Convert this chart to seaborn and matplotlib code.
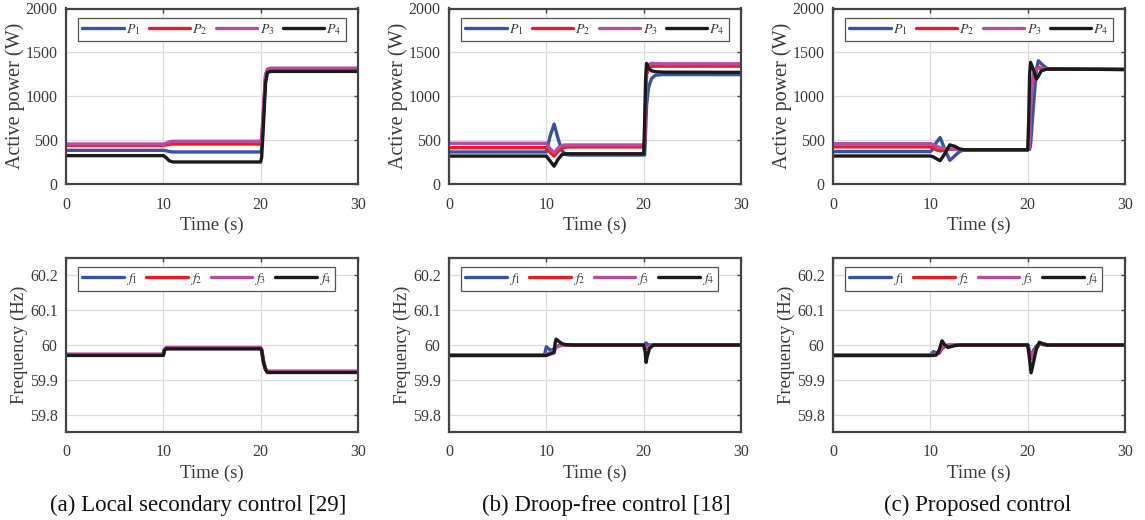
import numpy as np
import pandas as pd
import seaborn as sns
import matplotlib
matplotlib.use("Agg")
import matplotlib.pyplot as plt

# ---------------- data ----------------
# Panel (a) Local secondary control - active power
t_pa = [0, 10, 10.3, 10.6, 11, 20, 20.1, 20.3, 20.5, 20.7, 21, 30]
pa_1 = [384, 384, 378, 370, 365, 365, 400, 800, 1200, 1290, 1305, 1305]
pa_2 = [441, 441, 445, 452, 456, 456, 500, 850, 1230, 1300, 1310, 1310]
pa_3 = [456, 456, 465, 480, 487, 487, 520, 880, 1250, 1310, 1320, 1320]
pa_4 = [323, 323, 300, 265, 251, 251, 300, 700, 1150, 1270, 1283, 1283]

# Panel (b) Droop-free control - active power
t_pb = [0, 10, 10.4, 10.8, 11.2, 11.6, 12, 12.5, 20, 20.1, 20.2, 20.3, 20.5, 20.8, 21.2, 22, 30]
pb_1 = [365, 365, 550, 683, 520, 380, 335, 330, 330, 330, 600, 900, 1100, 1200, 1240, 1247, 1247]
pb_2 = [414, 414, 360, 318, 370, 410, 420, 422, 422, 450, 900, 1250, 1320, 1340, 1343, 1343, 1343]
pb_3 = [464, 464, 400, 357, 410, 440, 445, 445, 445, 480, 950, 1300, 1360, 1375, 1372, 1370, 1370]
pb_4 = [318, 318, 260, 203, 280, 335, 345, 345, 345, 700, 1200, 1374, 1320, 1290, 1280, 1275, 1272]

# Panel (c) Proposed control - active power
t_pc = [0, 10, 10.3, 10.6, 11.0, 11.4, 12.0, 12.5, 13.0, 13.5, 20, 20.1, 20.2, 20.3, 20.6, 20.9, 21.1, 21.4, 22, 30]
pc_1 = [369, 369, 400, 470, 530, 420, 269, 320, 370, 390, 390, 390, 395, 450, 900, 1300, 1405, 1370, 1315, 1305]
pc_2 = [423, 423, 410, 390, 377, 385, 395, 395, 393, 390, 390, 400, 500, 900, 1250, 1320, 1330, 1320, 1310, 1305]
pc_3 = [460, 460, 450, 430, 415, 405, 398, 395, 392, 390, 390, 400, 500, 880, 1240, 1310, 1320, 1315, 1310, 1305]
pc_4 = [319, 319, 310, 290, 265, 330, 446, 430, 400, 390, 390, 700, 1250, 1386, 1300, 1196, 1230, 1290, 1310, 1305]

# Panel (a) - frequency
t_fa = [0, 10, 10.1, 10.3, 20, 20.1, 20.3, 20.5, 20.7, 30]
fa_1 = [59.971, 59.971, 59.985, 59.990, 59.990, 59.985, 59.950, 59.930, 59.922, 59.922]
fa_2 = [59.971, 59.971, 59.985, 59.990, 59.990, 59.985, 59.950, 59.930, 59.922, 59.922]
fa_3 = [59.974, 59.974, 59.988, 59.993, 59.993, 59.988, 59.953, 59.933, 59.925, 59.925]
fa_4 = [59.970, 59.970, 59.984, 59.989, 59.989, 59.984, 59.949, 59.929, 59.921, 59.921]

# Panel (b) - frequency
t_fb = [0, 9.8, 10.0, 10.2, 10.5, 10.8, 10.9, 11.0, 11.3, 11.6, 12, 13, 20, 20.15, 20.25, 20.35, 20.6, 21, 30]
fb_1 = [59.970, 59.970, 59.995, 59.990, 59.984, 59.990, 59.992, 59.995, 59.998, 60.0, 60.0, 60.0, 60.0, 60.004, 60.006, 60.002, 60.0, 60.0, 60.0]
fb_2 = [59.970, 59.970, 59.972, 59.975, 59.978, 59.982, 59.990, 59.995, 59.998, 60.0, 60.0, 60.0, 60.0, 59.995, 59.990, 59.990, 59.996, 60.0, 60.0]
fb_3 = [59.971, 59.971, 59.973, 59.976, 59.979, 59.983, 59.988, 59.993, 59.997, 59.999, 60.0, 60.001, 60.001, 59.996, 59.992, 59.992, 59.997, 60.001, 60.001]
fb_4 = [59.970, 59.970, 59.970, 59.972, 59.975, 59.978, 60.005, 60.017, 60.010, 60.004, 60.001, 60.0, 60.0, 59.980, 59.950, 59.965, 59.990, 60.0, 60.0]

# Panel (c) - frequency
t_fc = [0, 10, 10.3, 10.6, 10.9, 11.2, 11.5, 11.8, 12.5, 13, 20, 20.15, 20.35, 20.6, 20.9, 21.2, 21.6, 22, 30]
fc_1 = [59.970, 59.970, 59.981, 59.978, 59.976, 59.990, 59.997, 60.0, 60.0, 60.0, 60.0, 59.985, 59.970, 59.985, 59.997, 60.003, 60.001, 60.0, 60.0]
fc_2 = [59.970, 59.970, 59.971, 59.974, 59.980, 59.990, 59.996, 59.997, 59.999, 60.0, 60.0, 59.985, 59.960, 59.975, 59.990, 60.002, 60.003, 60.0, 60.0]
fc_3 = [59.971, 59.971, 59.972, 59.975, 59.982, 59.992, 59.998, 59.998, 60.0, 60.001, 60.001, 59.986, 59.962, 59.977, 59.992, 60.003, 60.004, 60.001, 60.001]
fc_4 = [59.970, 59.970, 59.970, 59.971, 59.985, 60.012, 60.0, 59.993, 59.998, 60.0, 60.0, 59.970, 59.920, 59.950, 59.990, 60.008, 60.003, 60.0, 60.0]

p_labels = [r"$P_\mathit{1}$", r"$P_\mathit{2}$", r"$P_\mathit{3}$", r"$P_\mathit{4}$"]
f_labels = [r"$f_\mathit{1}$", r"$f_\mathit{2}$", r"$f_\mathit{3}$", r"$f_\mathit{4}$"]
captions = ["(a) Local secondary control [29]", "(b) Droop-free control [18]", "(c) Proposed control"]
x_ticks = [0, 10, 20, 30]
p_ticks = [0, 500, 1000, 1500, 2000]
f_ticks = [59.8, 59.9, 60.0, 60.1, 60.2]
f_ticklabels = ["59.8", "59.9", "60", "60.1", "60.2"]

# ---------------- style ----------------
sns.set_theme(style="white")
plt.rcParams["font.family"] = ["Liberation Serif", "DejaVu Serif"]
plt.rcParams["mathtext.fontset"] = "stix"

colors = ["#3953a4", "#ed1c24", "#b84ea1", "#1a1a1a"]
text_c = "#3a3a3a"
spine_c = "#444444"

fig = plt.figure(figsize=(11.45, 5.2), dpi=100)
lefts = [66 / 1145, 449 / 1145, 833 / 1145]
width = 292 / 1145
top_row = (1 - 184 / 520, (184 - 8.5) / 520)
bot_row = (1 - 432 / 520, (432 - 258) / 520)

panels_p = [(t_pa, [pa_1, pa_2, pa_3, pa_4]),
            (t_pb, [pb_1, pb_2, pb_3, pb_4]),
            (t_pc, [pc_1, pc_2, pc_3, pc_4])]
panels_f = [(t_fa, [fa_1, fa_2, fa_3, fa_4]),
            (t_fb, [fb_1, fb_2, fb_3, fb_4]),
            (t_fc, [fc_1, fc_2, fc_3, fc_4])]


def style_axes(ax):
    for s in ax.spines.values():
        s.set_color(spine_c)
        s.set_linewidth(1.6)
    ax.grid(True, color="#dcdcdc", linewidth=0.9)
    ax.set_axisbelow(True)
    ax.tick_params(direction="in", length=3, width=1.0, color=spine_c,
                   labelsize=11.5, labelcolor=text_c, top=True, right=True)
    ax.tick_params(axis="x", pad=9)
    ax.tick_params(axis="y", pad=6)
    ax.set_xlim(0, 30)
    ax.set_xticks(x_ticks)
    ax.set_xlabel("Time (s)", fontsize=13.5, color=text_c, labelpad=3)


def add_legend(ax, labels, bbox):
    leg = ax.legend(labels=labels, handles=ax.get_lines()[:4], loc="upper left",
                    bbox_to_anchor=bbox, ncol=4, frameon=True, fancybox=False,
                    fontsize=10, handlelength=3.0, handletextpad=0.15,
                    columnspacing=0.6, borderpad=0.3, borderaxespad=0.0)
    fr = leg.get_frame()
    fr.set_edgecolor("#555555")
    fr.set_linewidth(0.9)
    fr.set_facecolor("white")
    fr.set_alpha(1.0)
    for txt in leg.get_texts():
        txt.set_color(text_c)


for i in range(3):
    # Active power
    ax = fig.add_axes([lefts[i], top_row[0], width, top_row[1]])
    t, series = panels_p[i]
    for k, ys in enumerate(series):
        sns.lineplot(x=t, y=ys, ax=ax, color=colors[k], linewidth=2.4,
                     estimator=None, sort=False, legend=False)
    style_axes(ax)
    ax.set_ylim(0, 2000)
    ax.set_yticks(p_ticks)
    ax.set_ylabel("Active power (W)", fontsize=14.5, color=text_c, labelpad=0.5)
    add_legend(ax, p_labels, (0.041, 0.945))

    # Frequency
    ax = fig.add_axes([lefts[i], bot_row[0], width, bot_row[1]])
    t, series = panels_f[i]
    for k, ys in enumerate(series):
        sns.lineplot(x=t, y=ys, ax=ax, color=colors[k], linewidth=2.4,
                     estimator=None, sort=False, legend=False)
    style_axes(ax)
    ax.set_ylim(59.75, 60.25)
    ax.set_yticks(f_ticks)
    ax.set_yticklabels(f_ticklabels)
    ax.set_ylabel("Frequency (Hz)", fontsize=13.5, color=text_c, labelpad=1)
    add_legend(ax, f_labels, (0.041, 0.95))

cap_x = [198 / 1145, 606 / 1145, 978 / 1145]
for i in range(3):
    fig.text(cap_x[i], 1 - 505 / 520, captions[i], ha="center", va="center",
             fontsize=16.5, color="#111111")

fig.savefig("out.png", dpi=100)
